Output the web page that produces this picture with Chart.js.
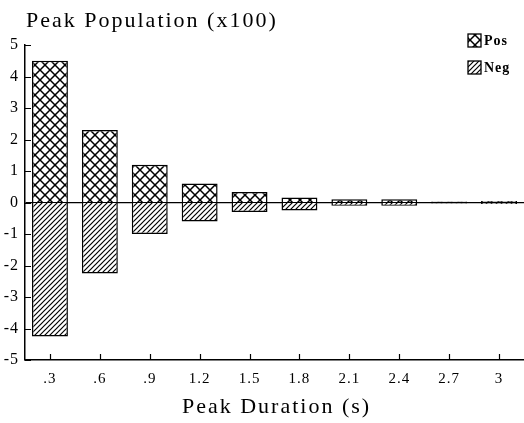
<!DOCTYPE html>
<html>
<head>
    <title>Peak Population vs Peak Duration</title>
    <script src="https://cdn.jsdelivr.net/npm/chart.js"></script>
    <style>
        body { margin: 0; background: #fff; }
        #wrap { width: 524px; height: 423px; }
    </style>
</head>
<body>
    <div id="wrap"><canvas id="peak-chart"></canvas></div>

    <script>
        // Data
        const durations = ['.3', '.6', '.9', '1.2', '1.5', '1.8', '2.1', '2.4', '2.7', '3'];
        const posValues = [4.5, 2.3, 1.2, 0.6, 0.33, 0.16, 0.1, 0.1, 0.03, 0.05];
        const negValues = [-4.25, -2.25, -1.0, -0.6, -0.3, -0.25, -0.1, -0.1, -0.03, -0.05];
        const yTicks = [-5, -4, -3, -2, -1, 0, 1, 2, 3, 4, 5];
        const chartTitle = 'Peak Population (x100)';
        const xTitle = 'Peak Duration (s)';

        const serif = '"Liberation Serif", "DejaVu Serif", serif';

        // hatch fills
        function makePattern(size, draw) {
            const c = document.createElement('canvas');
            c.width = size; c.height = size;
            const g = c.getContext('2d');
            g.fillStyle = '#fff';
            g.fillRect(0, 0, size, size);
            g.strokeStyle = '#000';
            draw(g, size);
            return g.createPattern(c, 'repeat');
        }
        function diag(g, s, up) {
            g.beginPath();
            if (up) {
                g.moveTo(-1, s + 1); g.lineTo(s + 1, -1);
                g.moveTo(-1, 1); g.lineTo(1, -1);
                g.moveTo(s - 1, s + 1); g.lineTo(s + 1, s - 1);
            } else {
                g.moveTo(-1, -1); g.lineTo(s + 1, s + 1);
                g.moveTo(s - 1, -1); g.lineTo(s + 1, 1);
                g.moveTo(-1, s - 1); g.lineTo(1, s + 1);
            }
            g.stroke();
        }
        const crossHatch = makePattern(10, (g, s) => { g.lineWidth = 1.5; diag(g, s, true); diag(g, s, false); });
        const slashHatch = makePattern(5, (g, s) => { g.lineWidth = 1.2; diag(g, s, true); });

        // titles, legend and inward tick marks
        const decor = {
            id: 'decor',
            beforeDraw(chart) {
                chart.ctx.letterSpacing = '1px';
            },
            afterDatasetsDraw(chart) {
                const ctx = chart.ctx;
                const x = chart.scales.x, y = chart.scales.y;
                ctx.save();
                ctx.strokeStyle = '#000';
                ctx.lineWidth = 1.2;
                ctx.beginPath();
                yTicks.forEach(v => {
                    const py = Math.round(y.getPixelForValue(v)) + 0.5;
                    ctx.moveTo(x.left, py); ctx.lineTo(x.left + 6, py);
                });
                durations.forEach((d, i) => {
                    const px = Math.round(x.getPixelForValue(i)) + 0.5;
                    ctx.moveTo(px, y.bottom); ctx.lineTo(px, y.bottom - 6);
                });
                ctx.stroke();

                ctx.fillStyle = '#000';
                ctx.letterSpacing = '2px';
                ctx.textBaseline = 'alphabetic';
                ctx.font = '22px ' + serif;
                ctx.textAlign = 'left';
                ctx.fillText(chartTitle, x.left + 1, 27);
                ctx.textAlign = 'center';
                ctx.fillText(xTitle, (x.left + x.right) / 2 + 2, 413);

                ctx.letterSpacing = '1px';
                ctx.textAlign = 'left';
                ctx.textBaseline = 'middle';
                ctx.font = 'bold 14px ' + serif;
                chart.data.datasets.forEach((ds, i) => {
                    const by = 34 + i * 27;
                    ctx.fillStyle = ds.backgroundColor;
                    ctx.fillRect(468, by, 13, 13);
                    ctx.lineWidth = 1.3;
                    ctx.strokeRect(468, by, 13, 13);
                    ctx.fillStyle = '#000';
                    ctx.fillText(ds.label, 484, by + 7);
                });
                ctx.restore();
            }
        };

        const ctx = document.getElementById('peak-chart').getContext('2d');
        new Chart(ctx, {
            type: 'bar',
            data: {
                labels: durations,
                datasets: [
                    { label: 'Pos', data: posValues, backgroundColor: crossHatch, borderColor: '#000', borderWidth: 1.5 },
                    { label: 'Neg', data: negValues, backgroundColor: slashHatch, borderColor: '#000', borderWidth: 1.5 }
                ]
            },
            options: {
                responsive: true,
                maintainAspectRatio: false,
                animation: false,
                layout: { padding: { top: 45, right: 0, left: 0, bottom: 0 } },
                datasets: { bar: { categoryPercentage: 0.8, barPercentage: 0.9 } },
                plugins: {
                    legend: { display: false },
                    tooltip: { enabled: false }
                },
                scales: {
                    x: {
                        stacked: true,
                        grid: { display: false, drawTicks: false },
                        border: { color: '#000', width: 1.5 },
                        ticks: { color: '#000', padding: 10, font: { family: serif, size: 15 } },
                        afterFit: s => { s.height = 63; }
                    },
                    y: {
                        stacked: true,
                        min: -5,
                        max: 5,
                        ticks: { stepSize: 1, color: '#000', padding: 6, font: { family: serif, size: 16 } },
                        grid: {
                            drawTicks: false,
                            color: c => c.tick && c.tick.value === 0 ? '#000' : 'rgba(0,0,0,0)',
                            lineWidth: 1.2
                        },
                        border: { color: '#000', width: 1.5 },
                        afterFit: s => { s.width = 25; }
                    }
                }
            },
            plugins: [decor]
        });
    </script>
</body>
</html>
